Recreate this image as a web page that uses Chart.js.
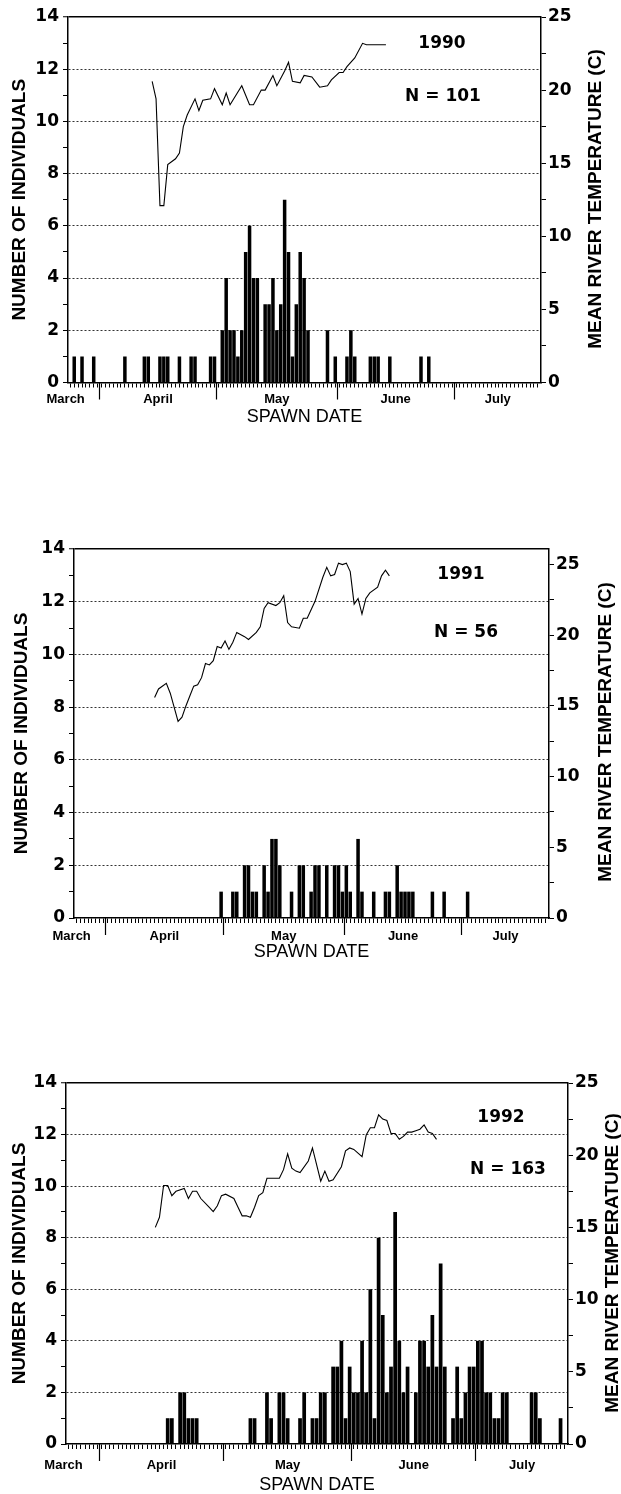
<!DOCTYPE html>
<html>
<head>
<meta charset="utf-8">
<script src="https://cdn.jsdelivr.net/npm/chart.js@4.4.0/dist/chart.umd.min.js"></script>
<style>
  html, body { margin: 0; padding: 0; background: #fff; }
  body { width: 621px; height: 1494px; position: relative; overflow: hidden; }
  canvas { position: absolute; left: 0; }
</style>
</head>
<body>
<canvas id="p1990" width="621" height="440" style="top:0px"></canvas>
<canvas id="p1991" width="621" height="445" style="top:525px"></canvas>
<canvas id="p1992" width="621" height="434" style="top:1060px"></canvas>
<script>
// ── Data (dates are MM-DD, counts = spawners per day, temps in °C) ───────────
const years       = ['1990', '1991', '1992'];
const sampleSizes = ['N = 101', 'N = 56', 'N = 163'];

const spawnDates1990  = ['03-25','03-27','03-30','04-07','04-12','04-13','04-16','04-17','04-18','04-21','04-24','04-25','04-29','04-30',
                         '05-02','05-03','05-04','05-05','05-06','05-07','05-08','05-09','05-10','05-11','05-13','05-14','05-15','05-16',
                         '05-17','05-18','05-19','05-20','05-21','05-22','05-23','05-24','05-29','05-31','06-03','06-04','06-05','06-09',
                         '06-10','06-11','06-14','06-22','06-24'];
const spawnCounts1990 = [1,1,1,1,1,1,1,1,1,1,1,1,1,1, 2,4,2,2,1,2,5,6,4,4,3,3,4,2, 3,7,5,1,3,5,4,2,2,1,1,2,1,1, 1,1,1,1,1];

const spawnDates1991  = ['04-30','05-03','05-04','05-06','05-07','05-08','05-09','05-11','05-12','05-13','05-14','05-15','05-18','05-20',
                         '05-21','05-23','05-24','05-25','05-27','05-29','05-30','05-31','06-01','06-02','06-04','06-05','06-08','06-11',
                         '06-12','06-14','06-15','06-16','06-17','06-18','06-23','06-26','07-02'];
const spawnCounts1991 = [1,1,1,2,2,1,1,2,1,3,3,2,1,2, 2,1,2,2,2,2,2,1,2,1,3,1,1,1, 1,2,1,1,1,1,1,1,1];

const spawnDates1992  = ['04-17','04-18','04-20','04-21','04-22','04-23','04-24','05-07','05-08','05-11','05-12','05-14','05-15','05-16',
                         '05-19','05-20','05-22','05-23','05-24','05-25','05-27','05-28','05-29','05-30','05-31','06-01','06-02','06-03',
                         '06-04','06-05','06-06','06-07','06-08','06-09','06-10','06-11','06-12','06-13','06-14','06-16','06-17','06-18',
                         '06-19','06-20','06-21','06-22','06-23','06-25','06-26','06-27','06-28','06-29','06-30','07-01','07-02','07-03',
                         '07-04','07-05','07-06','07-07','07-08','07-14','07-15','07-16','07-21'];
const spawnCounts1992 = [1,1,2,2,1,1,1,1,1,2,1,2,2,1, 1,2,1,1,2,2,3,3,4,1,3,2,2,4, 2,6,1,8,5,2,3,9,4,2,3,2,4,4,
                         3,5,3,7,3,1,3,1,2,3,3,4,4,2, 2,1,1,2,2,2,2,1,1];

const tempDates1990 = ['04-14','04-15','04-16','04-17','04-18','04-20','04-21','04-22','04-23','04-25','04-26','04-27','04-29','04-30',
                       '05-02','05-03','05-04','05-07','05-09','05-10','05-12','05-13','05-15','05-16','05-18','05-19','05-20','05-22',
                       '05-23','05-25','05-27','05-29','05-30','06-01','06-02','06-03','06-05','06-07','06-08','06-13'];
const temps1990     = [20.6,19.4,12.1,12.1,14.9,15.3,15.7,17.5,18.3,19.4,18.6,19.3,19.4,20.1,
                       19.0,19.8,19.0,20.3,19.0,19.0,20.0,20.0,21.0,20.3,21.3,21.9,20.6,20.5,
                       21.0,20.9,20.2,20.3,20.7,21.2,21.2,21.6,22.2,23.2,23.1,23.1];

const tempDates1991 = ['04-13','04-14','04-16','04-17','04-19','04-20','04-21','04-22','04-23','04-24','04-25','04-26','04-27','04-28',
                       '04-29','04-30','05-01','05-02','05-03','05-04','05-06','05-07','05-09','05-10','05-11','05-12','05-14','05-15',
                       '05-16','05-17','05-18','05-20','05-21','05-22','05-23','05-24','05-26','05-27','05-28','05-29','05-30','05-31',
                       '06-01','06-02','06-03','06-04','06-05','06-06','06-07','06-09','06-10','06-11','06-12'];
const temps1991     = [15.6,16.2,16.6,15.9,13.9,14.2,15.0,15.7,16.4,16.5,17.0,18.0,17.9,18.2,
                       19.2,19.1,19.6,19.0,19.5,20.2,19.9,19.7,20.2,20.6,21.9,22.3,22.1,22.3,
                       22.8,20.9,20.6,20.5,21.2,21.2,21.8,22.4,24.1,24.8,24.2,24.3,25.1,25.0,
                       25.1,24.5,22.2,22.6,21.5,22.6,23.0,23.4,24.2,24.6,24.2];

const tempDates1992 = ['04-14','04-15','04-16','04-17','04-18','04-19','04-21','04-22','04-23','04-24','04-25','04-27','04-28','04-29',
                       '04-30','05-01','05-03','05-04','05-05','05-06','05-07','05-08','05-09','05-10','05-11','05-12','05-14','05-15',
                       '05-16','05-17','05-18','05-19','05-21','05-22','05-24','05-25','05-26','05-27','05-29','05-30','05-31','06-01',
                       '06-03','06-04','06-05','06-06','06-07','06-08','06-09','06-10','06-11','06-12','06-13','06-14','06-15','06-16',
                       '06-17','06-18','06-19','06-20','06-21'];
const temps1992     = [15.0,15.7,17.9,17.9,17.2,17.5,17.7,17.0,17.5,17.5,17.0,16.4,16.1,16.5,
                       17.2,17.3,17.0,16.4,15.8,15.8,15.7,16.4,17.2,17.4,18.4,18.4,18.4,19.0,
                       20.1,19.1,18.9,18.8,19.6,20.5,18.2,18.9,18.2,18.3,19.2,20.3,20.5,20.4,
                       19.9,21.4,21.9,21.9,22.8,22.5,22.4,21.5,21.5,21.1,21.3,21.6,21.6,21.7,
                       21.8,22.1,21.6,21.5,21.1];

// axis labels
const monthNames     = ['March', 'April', 'May', 'June', 'July'];
const monthLabelDays = [22.8, 46.5, 77, 107.5, 133.7];   // where the month names sit
const monthStarts    = ['04-01', '05-01', '06-01', '07-01'];

// ── Helpers ──────────────────────────────────────────────────────────────────
const MONTH_OFFSET = { '03': 0, '04': 31, '05': 61, '06': 92, '07': 122 };
const dayOf = s => MONTH_OFFSET[s.slice(0, 2)] + Number(s.slice(3));

const X_MIN = 23.4, X_MAX = 144.8;
const monthBounds = monthStarts.map(s => dayOf(s) - 0.5);
const dayTicks = [];   for (let d = 24; d <= 144; d++) dayTicks.push(d);
const countTicks = []; for (let v = 0; v <= 14; v++) countTicks.push(v);
const tempTicks = [];  for (let v = 0; v <= 25; v += 2.5) tempTicks.push(v);

Chart.defaults.font.family = '"DejaVu Sans", "Liberation Sans", sans-serif';
Chart.defaults.color = '#000';

const TICK_FONT  = { family: '"DejaVu Sans", sans-serif', size: 17, weight: 'bold' };
const TITLE_FONT = '"Liberation Sans", Arial, sans-serif';

// right-hand title reads bottom-to-top, so it is drawn here along with the notes
const panelText = {
  id: 'panelText',
  afterDraw(chart, args, o) {
    const ctx = chart.ctx;
    ctx.save();
    ctx.fillStyle = '#000';
    ctx.textAlign = 'center';
    ctx.textBaseline = 'middle';
    ctx.font = `bold 19px ${TITLE_FONT}`;
    ctx.translate(o.rightTitle[0], o.rightTitle[1]);
    ctx.rotate(-Math.PI / 2);
    ctx.fillText('MEAN RIVER TEMPERATURE (C)', 0, 0);
    ctx.restore();
    ctx.save();
    ctx.fillStyle = '#000';
    ctx.textAlign = 'center';
    ctx.textBaseline = 'middle';
    ctx.font = 'bold 17px "DejaVu Sans", sans-serif';
    ctx.fillText(o.year, o.yearAt[0], o.yearAt[1]);
    ctx.fillText(o.n, o.nAt[0], o.nAt[1]);
    ctx.restore();
  }
};

// pixel layout of each panel, relative to its canvas
const panelLayout = [
  { id: 'p1990', area: { left: 68, right: 541, top: 17, bottom: 382.5 }, tempMax: 25,
    leftTitleX: 20, rightTitle: [596, 199], yearAt: [442, 44], nAt: [443, 97],  monthPad: -7.7, titlePad: 12.4 },
  { id: 'p1991', area: { left: 74, right: 549, top: 24, bottom: 393 },   tempMax: 26.1,
    leftTitleX: 22, rightTitle: [606, 207], yearAt: [461, 50], nAt: [466, 108], monthPad: -6.2, titlePad: 7.4 },
  { id: 'p1992', area: { left: 66, right: 568, top: 23, bottom: 384 },   tempMax: 25,
    leftTitleX: 20, rightTitle: [613, 203], yearAt: [501, 58], nAt: [508, 110], monthPad: -3.2, titlePad: -1.6 }
];

const series = [
  { dates: spawnDates1990, counts: spawnCounts1990, tDates: tempDates1990, temps: temps1990 },
  { dates: spawnDates1991, counts: spawnCounts1991, tDates: tempDates1991, temps: temps1991 },
  { dates: spawnDates1992, counts: spawnCounts1992, tDates: tempDates1992, temps: temps1992 }
];

function buildPanel(i) {
  const L = panelLayout[i], S = series[i];
  const el = document.getElementById(L.id);
  const H = el.height;
  const bars = S.dates.map((d, k) => ({ x: dayOf(d), y: S.counts[k] }));
  const temp = S.tDates.map((d, k) => ({ x: dayOf(d), y: S.temps[k] }));
  const monthTicks = [...monthLabelDays, ...monthBounds].sort((a, b) => a - b);

  return new Chart(el, {
    type: 'bar',
    data: {
      datasets: [
        { type: 'line', data: temp, xAxisID: 'x', yAxisID: 'yT', borderColor: '#000', borderWidth: 1.1,
          pointRadius: 0, tension: 0, order: 0 },
        { data: bars, xAxisID: 'x', yAxisID: 'y', backgroundColor: '#000', borderWidth: 0,
          barPercentage: 0.9, categoryPercentage: 1, order: 1 }
      ]
    },
    plugins: [panelText],
    options: {
      responsive: false, animation: false, events: [],
      layout: { padding: { top: L.area.top, left: 0, right: 0, bottom: 0 } },
      plugins: {
        legend: { display: false }, tooltip: { enabled: false },
        panelText: { rightTitle: L.rightTitle, year: years[i], yearAt: L.yearAt, n: sampleSizes[i], nAt: L.nAt }
      },
      scales: {
        x: {
          type: 'linear', position: 'bottom', min: X_MIN, max: X_MAX, offset: false, weight: 0,
          afterBuildTicks: s => { s.ticks = dayTicks.map(v => ({ value: v })); },
          ticks: { display: false, autoSkip: false },
          grid: { drawOnChartArea: false, offset: false, color: '#000', tickLength: 5, tickWidth: 1 },
          border: { display: true, color: '#000', width: 1.5 },
          afterFit: s => { s.height = 0; }
        },
        xm: {
          type: 'linear', position: 'bottom', min: X_MIN, max: X_MAX, offset: false, weight: 1,
          afterBuildTicks: s => { s.ticks = monthTicks.map(v => ({ value: v })); },
          ticks: {
            autoSkip: false, maxRotation: 0, padding: L.monthPad,
            font: { family: TITLE_FONT, size: 13, weight: 'bold' },
            callback: v => { const k = monthLabelDays.indexOf(v); return k >= 0 ? monthNames[k] : ''; }
          },
          grid: {
            drawOnChartArea: false, offset: false, tickLength: 17, tickWidth: 1.2,
            tickColor: c => monthBounds.includes(c.tick.value) ? '#000' : 'rgba(0,0,0,0)'
          },
          border: { display: false },
          title: { display: true, text: 'SPAWN DATE', font: { family: TITLE_FONT, size: 18 },
                   padding: { top: 0, bottom: L.titlePad } },
          afterFit: s => { s.height = H - L.area.bottom; }
        },
        y: {
          position: 'left', min: 0, max: 14,
          afterBuildTicks: s => { s.ticks = countTicks.map(v => ({ value: v })); },
          ticks: { autoSkip: false, padding: 4, font: TICK_FONT, callback: v => (v % 2 === 0 ? v : '') },
          grid: {
            color: c => (c.tick.value === 14 ? '#000' : (c.tick.value > 0 && c.tick.value % 2 === 0 ? '#333' : 'rgba(0,0,0,0)')),
            lineWidth: c => (c.tick.value === 14 ? 1.5 : 1),
            tickColor: '#000', tickLength: 5, tickWidth: 1
          },
          border: { display: true, color: '#000', width: 1.5,
                    dash: c => (c.tick && c.tick.value !== 14 ? [2, 2] : []) },
          title: { display: true, text: 'NUMBER OF INDIVIDUALS', font: { family: TITLE_FONT, size: 19, weight: 'bold' },
                   padding: { top: L.leftTitleX - 11.4, bottom: 0 } },
          afterFit: s => { s.width = L.area.left; }
        },
        yT: {
          position: 'right', min: 0, max: L.tempMax,
          afterBuildTicks: s => { s.ticks = tempTicks.map(v => ({ value: v })); },
          ticks: { autoSkip: false, padding: 2, font: TICK_FONT, callback: v => (v % 5 === 0 ? v : '') },
          grid: { drawOnChartArea: false, color: '#000', tickLength: 5, tickWidth: 1 },
          border: { display: true, color: '#000', width: 1.5 },
          afterFit: s => { s.width = 621 - L.area.right; }
        }
      }
    }
  });
}

panelLayout.forEach((_, i) => buildPanel(i));
</script>
</body>
</html>
